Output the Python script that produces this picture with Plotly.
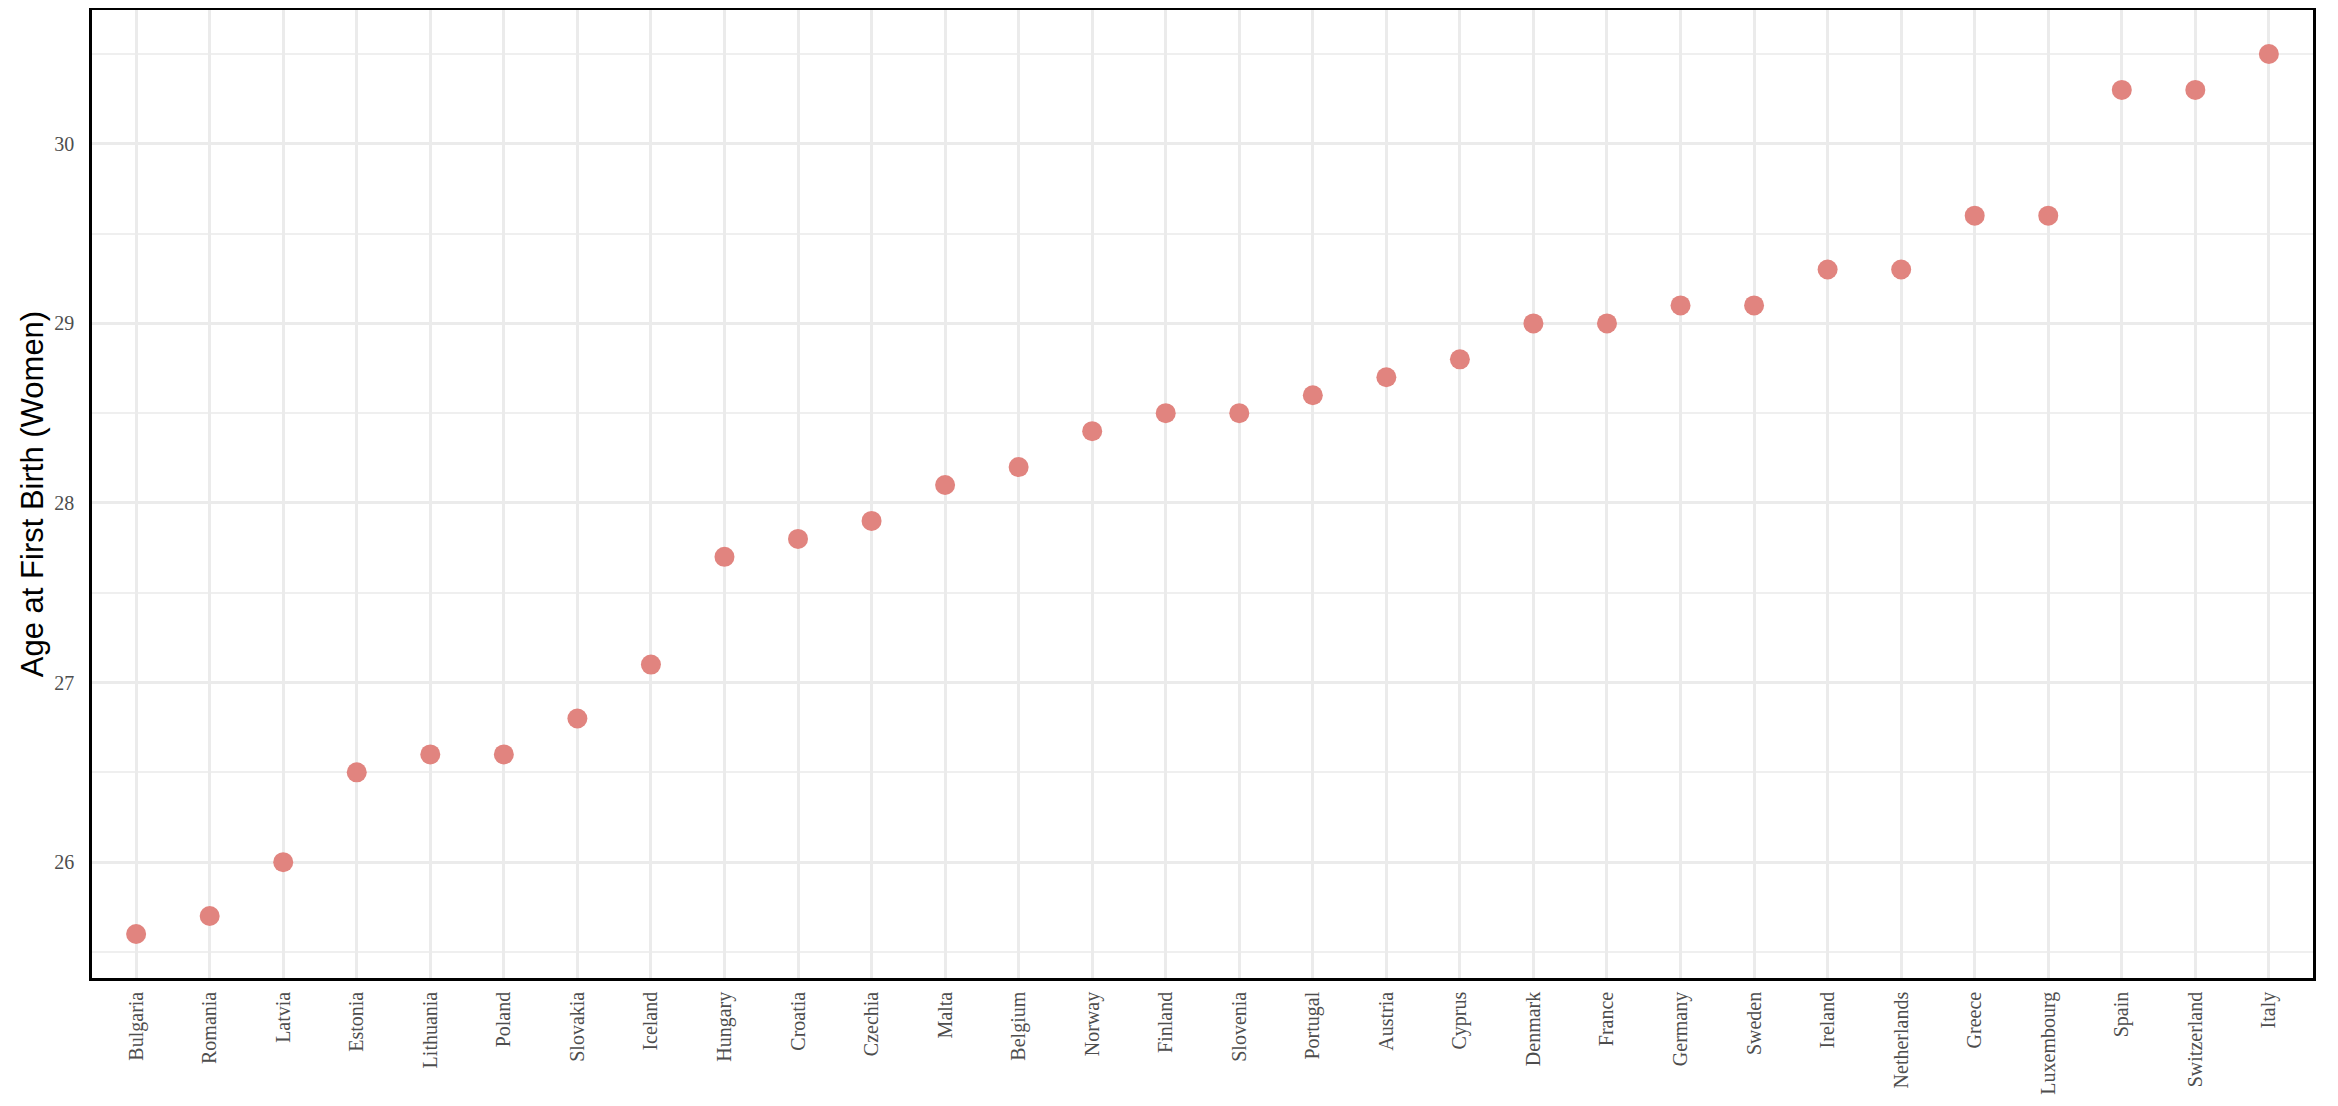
import plotly.graph_objects as go

countries = ["Bulgaria", "Romania", "Latvia", "Estonia", "Lithuania", "Poland", "Slovakia",
             "Iceland", "Hungary", "Croatia", "Czechia", "Malta", "Belgium", "Norway",
             "Finland", "Slovenia", "Portugal", "Austria", "Cyprus", "Denmark", "France",
             "Germany", "Sweden", "Ireland", "Netherlands", "Greece", "Luxembourg", "Spain",
             "Switzerland", "Italy"]
age_first_birth = [25.6, 25.7, 26.0, 26.5, 26.6, 26.6, 26.8, 27.1, 27.7, 27.8, 27.9, 28.1,
                   28.2, 28.4, 28.5, 28.5, 28.6, 28.7, 28.8, 29.0, 29.0, 29.1, 29.1, 29.3,
                   29.3, 29.6, 29.6, 30.3, 30.3, 30.5]
y_ticks = [26, 27, 28, 29, 30]

fig = go.Figure()
fig.add_trace(go.Scatter(
    x=countries, y=age_first_birth, mode="markers",
    marker=dict(size=20, color="#E1847F", line=dict(width=0)),
    showlegend=False,
))

ymin = min(age_first_birth) - 0.05 * (max(age_first_birth) - min(age_first_birth))
ymax = max(age_first_birth) + 0.05 * (max(age_first_birth) - min(age_first_birth))

fig.update_layout(
    width=2330, height=1099,
    margin=dict(l=84, r=25, t=2, b=129),
    paper_bgcolor="white", plot_bgcolor="white",
    xaxis=dict(
        type="category", categoryorder="array", categoryarray=countries,
        range=[-0.6, len(countries) - 1 + 0.6],
        showgrid=True, gridcolor="#EBEBEB", gridwidth=2.5,
        showline=True, linecolor="black", linewidth=2.5, mirror=True,
        tickangle=-90, ticks="", ticklabelstandoff=3, automargin=False,
        tickfont=dict(family="Liberation Serif", size=20, color="#4D4D4D"),
        zeroline=False,
    ),
    yaxis=dict(
        range=[ymin, ymax],
        tickvals=y_ticks, ticktext=[str(v) for v in y_ticks],
        showgrid=True, gridcolor="#EBEBEB", gridwidth=2.5,
        minor=dict(dtick=0.5, showgrid=True, gridcolor="#EFEFEF", gridwidth=1.5, tick0=25.5),
        showline=True, linecolor="black", linewidth=2.5, mirror=True,
        ticks="", ticklabelstandoff=11, automargin=False,
        tickfont=dict(family="Liberation Serif", size=20, color="#4D4D4D"),
        title=dict(text="Age at First Birth (Women)", standoff=2,
                   font=dict(family="Liberation Sans", size=31, color="black")),
        zeroline=False,
    ),
)

fig.write_html("out.html")
